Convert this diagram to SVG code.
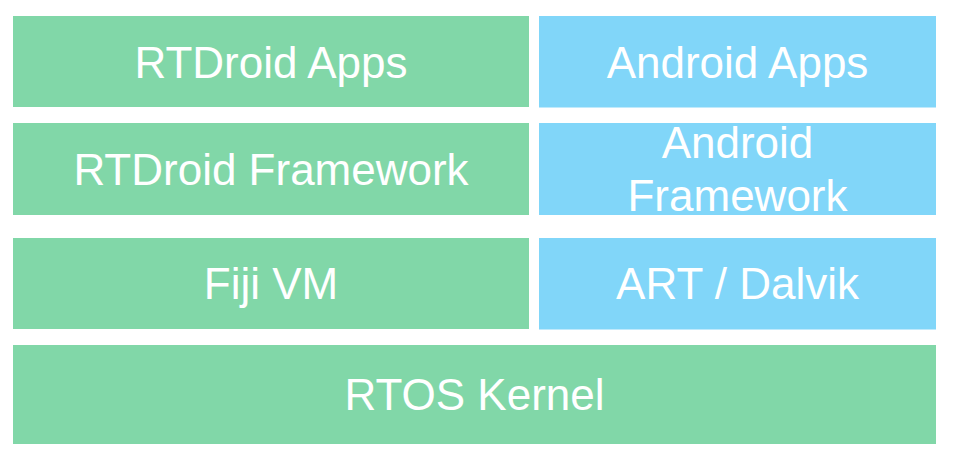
<svg xmlns="http://www.w3.org/2000/svg" width="956" height="462" viewBox="0 0 956 462">
<style>
.g{fill:#81D7A8}
.b{fill:#81D6F9}
text{font-family:"Liberation Sans",Arial,sans-serif;font-size:44px;fill:#ffffff;text-anchor:middle}
</style>
<rect width="956" height="462" fill="#ffffff"/>
<g id="rtdroid-apps"><rect class="g" x="13" y="16" width="516" height="91"/><text x="271" y="77.5">RTDroid Apps</text></g>
<g id="android-apps"><rect class="b" x="539" y="16" width="397" height="91.5"/><text x="737.5" y="77.5">Android Apps</text></g>
<g id="rtdroid-framework"><rect class="g" x="13" y="123" width="516" height="92"/><text x="271" y="185">RTDroid Framework</text></g>
<g id="android-framework"><rect class="b" x="539" y="123" width="397" height="92"/><text x="737.5" y="158.3">Android</text><text x="737.5" y="210.7">Framework</text></g>
<g id="fiji-vm"><rect class="g" x="13" y="238" width="516" height="91"/><text x="271" y="299.3">Fiji VM</text></g>
<g id="art-dalvik"><rect class="b" x="539" y="238" width="397" height="91.5"/><text x="737.5" y="299.3">ART / Dalvik</text></g>
<g id="rtos-kernel"><rect class="g" x="13" y="345" width="923" height="99"/><text x="474.5" y="410.3">RTOS Kernel</text></g>
<g id="connectors"/>
</svg>
